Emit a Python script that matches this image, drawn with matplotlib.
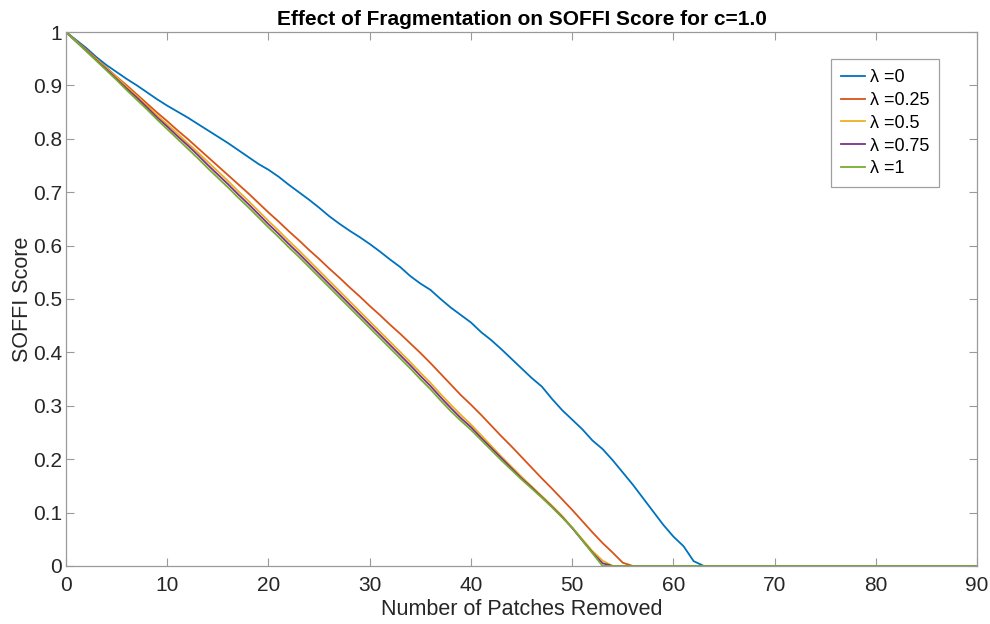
import numpy as np
import matplotlib.pyplot as plt
from matplotlib.ticker import FuncFormatter

plt.rcParams['font.family'] = ['Liberation Sans', 'DejaVu Sans']

# SOFFI score after removing n patches (n = 0..90), one series per lambda
patches = np.arange(0, 91)

soffi_l0 = [1.000, 0.985, 0.970, 0.953, 0.938, 0.925, 0.912, 0.900, 0.887, 0.874,
            0.862, 0.851, 0.840, 0.828, 0.816, 0.804, 0.792, 0.779, 0.766, 0.753,
            0.742, 0.729, 0.714, 0.700, 0.686, 0.671, 0.655, 0.641, 0.628, 0.616,
            0.603, 0.589, 0.574, 0.560, 0.543, 0.529, 0.517, 0.500, 0.484, 0.470,
            0.456, 0.438, 0.423, 0.406, 0.388, 0.370, 0.352, 0.336, 0.313, 0.292,
            0.274, 0.256, 0.235, 0.219, 0.198, 0.175, 0.152, 0.127, 0.102, 0.077,
            0.055, 0.037, 0.009, 0.0]

soffi_l025 = [1.000, 0.983, 0.967, 0.950, 0.933, 0.916, 0.900, 0.883, 0.866, 0.849,
              0.833, 0.816, 0.800, 0.783, 0.766, 0.749, 0.732, 0.715, 0.698, 0.680,
              0.662, 0.645, 0.627, 0.610, 0.592, 0.575, 0.557, 0.540, 0.522, 0.505,
              0.487, 0.470, 0.452, 0.435, 0.417, 0.399, 0.380, 0.360, 0.340, 0.320,
              0.302, 0.283, 0.263, 0.243, 0.224, 0.204, 0.184, 0.164, 0.145, 0.125,
              0.105, 0.084, 0.063, 0.043, 0.025, 0.006, 0.0]

soffi_l05 = [1.000, 0.983, 0.966, 0.949, 0.932, 0.915, 0.897, 0.880, 0.862, 0.844,
             0.827, 0.810, 0.792, 0.775, 0.757, 0.739, 0.721, 0.702, 0.684, 0.665,
             0.646, 0.628, 0.609, 0.591, 0.572, 0.553, 0.534, 0.515, 0.496, 0.477,
             0.458, 0.439, 0.420, 0.401, 0.382, 0.362, 0.343, 0.322, 0.302, 0.283,
             0.265, 0.245, 0.225, 0.205, 0.186, 0.167, 0.149, 0.131, 0.113, 0.094,
             0.072, 0.050, 0.028, 0.010, 0.0]

soffi_l075 = [1.000, 0.982, 0.965, 0.947, 0.930, 0.912, 0.894, 0.877, 0.859, 0.840,
              0.823, 0.805, 0.788, 0.770, 0.751, 0.733, 0.715, 0.696, 0.678, 0.659,
              0.640, 0.622, 0.603, 0.585, 0.566, 0.547, 0.528, 0.509, 0.490, 0.471,
              0.452, 0.433, 0.414, 0.395, 0.376, 0.356, 0.337, 0.316, 0.296, 0.277,
              0.260, 0.240, 0.221, 0.202, 0.183, 0.164, 0.147, 0.129, 0.111, 0.092,
              0.071, 0.048, 0.025, 0.005, 0.0]

soffi_l1 = [1.000, 0.982, 0.964, 0.946, 0.928, 0.910, 0.891, 0.873, 0.855, 0.836,
            0.818, 0.800, 0.782, 0.764, 0.745, 0.727, 0.709, 0.690, 0.672, 0.653,
            0.634, 0.616, 0.597, 0.579, 0.560, 0.541, 0.522, 0.503, 0.484, 0.465,
            0.446, 0.427, 0.408, 0.389, 0.370, 0.350, 0.331, 0.310, 0.290, 0.272,
            0.255, 0.236, 0.217, 0.198, 0.180, 0.162, 0.145, 0.128, 0.110, 0.091,
            0.072, 0.048, 0.024, 0.0]

series = [soffi_l0, soffi_l025, soffi_l05, soffi_l075, soffi_l1]
labels = ['λ =0', 'λ =0.25', 'λ =0.5', 'λ =0.75', 'λ =1']
colors = ['#0072BD', '#D95319', '#EDB120', '#7E2F8E', '#77AC30']

fig = plt.figure(figsize=(9.9, 6.24), dpi=100)
ax = fig.add_axes([0.0667, 0.093, 0.9203, 0.8557])

for vals, lab, col in zip(series, labels, colors):
    # pad with zeros once the score has dropped to 0
    y = np.zeros(len(patches))
    y[:len(vals)] = vals
    ax.plot(patches, y, color=col, lw=1.3, label=lab)

ax.set_xlim(0, 90)
ax.set_ylim(0, 1)
ax.set_xticks(np.arange(0, 91, 10))
ax.set_yticks(np.arange(0, 1.01, 0.1))
ax.yaxis.set_major_formatter(FuncFormatter(lambda v, p: f'{v:g}'))

ax.tick_params(direction='in', length=6, width=0.8, colors='#9a9a9a',
               labelcolor='#262626', labelsize=15, top=True, right=True)
ax.tick_params(axis='x', pad=7)
ax.tick_params(axis='y', pad=3)
for sp in ax.spines.values():
    sp.set_color('#9a9a9a')
    sp.set_linewidth(0.9)

ax.set_xlabel('Number of Patches Removed', fontsize=15.5, color='#262626', labelpad=3)
ax.set_ylabel('SOFFI Score', fontsize=15.5, color='#262626', labelpad=0)
ax.set_title('Effect of Fragmentation on SOFFI Score for c=1.0',
             fontsize=15, fontweight='bold', pad=5)

leg = ax.legend(loc='upper right', bbox_to_anchor=(0.9586, 0.949), borderaxespad=0,
                fontsize=13, handlelength=1.35, handletextpad=0.25, labelspacing=0.32,
                borderpad=0.55, fancybox=False, framealpha=1)
leg.get_frame().set_edgecolor('#a0a0a0')
leg.get_frame().set_linewidth(0.9)

fig.savefig('out.png', dpi=100)
